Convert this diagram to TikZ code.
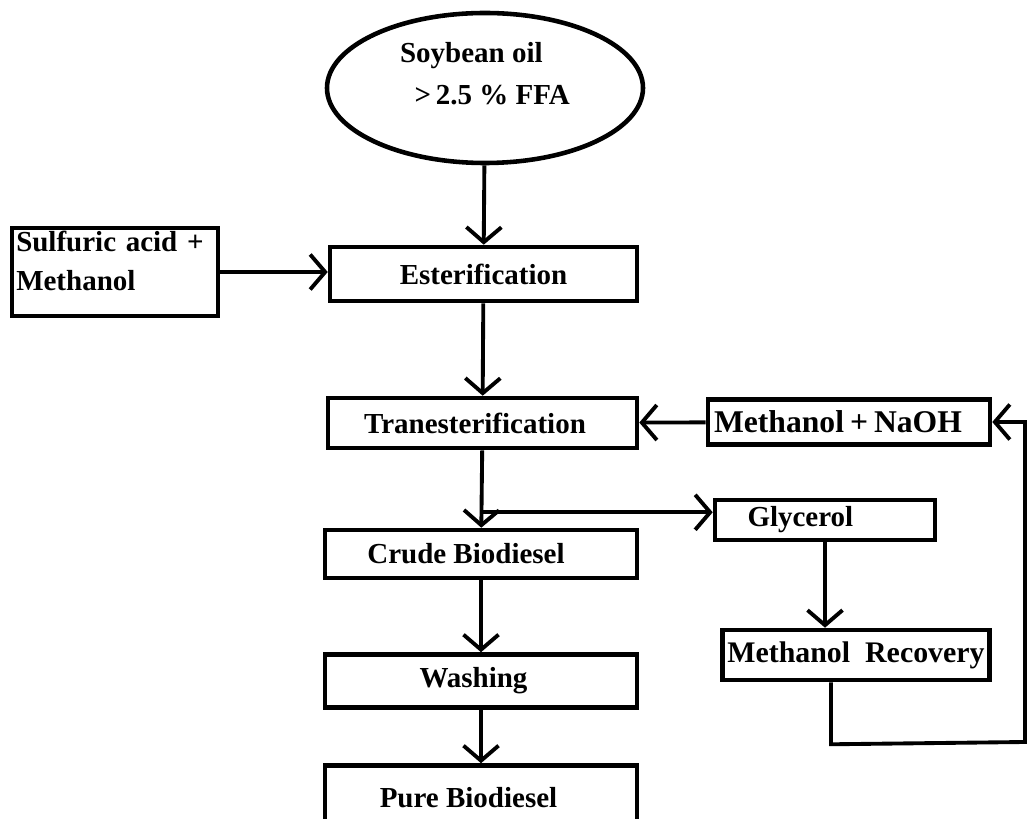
\documentclass[tikz,border=0pt]{standalone}
\usepackage{fontspec}
\setmainfont{Liberation Serif}
\usetikzlibrary{arrows.meta,shapes.geometric,calc}
\tikzset{
    stagebox/.style={draw, line width=2.6pt, minimum height=1cm, inner sep=2pt, font=\fontsize{16.5}{21}\selectfont\bfseries},
    flow/.style={line width=2.2pt, -{Straight Barb[length=3mm,width=7mm,line width=2.2pt]}},
    plain/.style={line width=2.2pt}
}
\begin{document}
\begin{tikzpicture}
        \def\colX{9.7}
        \def\boxW{6.2}
        \useasboundingbox (0,0) rectangle (20.58,-16.38);

        % feed
        \node[draw, ellipse, line width=2.6pt, minimum width=6.32cm, minimum height=3cm,
              font=\fontsize{16.5}{24}\selectfont\bfseries] (oil) at (9.7,-1.76)
              {\raisebox{0.1cm}[0pt][0pt]{\begin{tabular}{@{}l@{}}Soybean oil\\\ \ \textgreater\,2.5 \% FFA\end{tabular}}};
        \node[stagebox, minimum width=4.12cm, minimum height=1.76cm, align=left, text width=3.95cm] (acid) at (2.3,-5.44) {\raisebox{0.02cm}[0pt][0pt]{\begin{tabular}{@{}l@{}}Sulfuric acid +\\[0.05cm]Methanol\end{tabular}}};

        % main line
        \node[stagebox, minimum width=6.14cm, minimum height=1.08cm] (ester) at (9.67,-5.48) {Esterification};
        \node[stagebox, minimum width=6.18cm] (trans) at (9.65,-8.46) {\hspace{-0.3cm}Tranesterification};
        \node[stagebox, minimum width=6.24cm, minimum height=0.96cm] (crude) at (9.62,-11.08) {\hspace{-0.6cm}Crude Biodiesel};
        \node[stagebox, minimum width=6.24cm, minimum height=1.06cm] (wash) at (9.62,-13.62) {\hspace{-0.3cm}Washing};
        \node[stagebox, minimum width=6.24cm, minimum height=1.3cm] (pure) at (9.62,-15.96) {\hspace{-0.5cm}Pure Biodiesel};

        % side line
        \node[stagebox, minimum width=5.64cm, minimum height=0.9cm, font=\fontsize{18}{21}\selectfont\bfseries, text width=5.4cm, align=left] (naoh) at (16.98,-8.44) {Methanol\hspace{0.12cm}+\hspace{0.12cm}NaOH};
        \node[stagebox, minimum width=4.4cm, minimum height=0.8cm, text width=4.1cm, align=left] (glyc) at (16.5,-10.4) {\hspace{0.5cm}Glycerol};
        \node[stagebox, minimum width=5.34cm, font=\fontsize{17}{21}\selectfont\bfseries] (recov) at (17.12,-13.1) {Methanol\ \ Recovery};

        \coordinate (split) at ($(trans.south)+(0,-1.24)$);
        \coordinate (loopA) at ($(recov.south)+(-0.5,-1.24)$);
        \coordinate (loopB) at (20.5,-14.84);

        \draw[flow] (oil) -- (ester);
        \draw[flow] (acid) -- (ester.west |- acid.east);
        \draw[flow] (ester) -- (trans);
        \draw[flow] (naoh) -- (trans);
        \draw[flow] (trans) -- (crude);
        \draw[flow] (split) -- (split -| glyc.west);
        \draw[flow] (crude) -- (wash);
        \draw[flow] (wash) -- (pure);
        \draw[flow] (glyc.south) -- (glyc.south |- recov.north);
        \draw[flow] (recov.south -| loopA) -- (loopA) -- (loopB) |- (naoh.east);
\end{tikzpicture}
\end{document}
